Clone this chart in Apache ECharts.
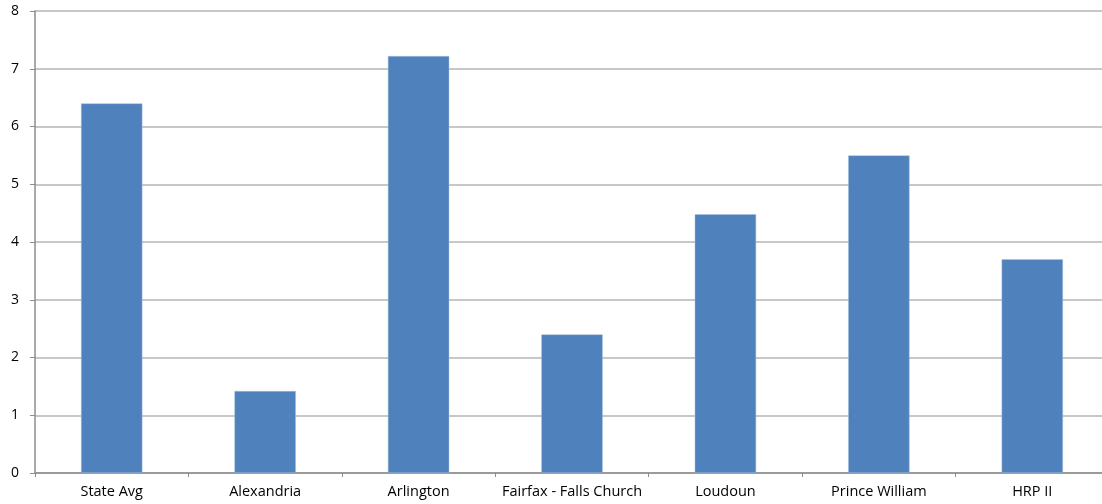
<!DOCTYPE html>
<html>
<head>
<meta charset="utf-8">
<script src="https://cdn.jsdelivr.net/npm/echarts@6/dist/echarts.min.js"></script>
<style>
  html, body { margin: 0; padding: 0; background: #ffffff; }
  #chart { width: 1102px; height: 504px; }
</style>
</head>
<body>
<div id="chart"></div>
<script>
// Regions shown along the category axis
const regions = ['State Avg', 'Alexandria', 'Arlington', 'Fairfax - Falls Church', 'Loudoun', 'Prince William', 'HRP II'];
// Value for each region
const values = [6.4, 1.42, 7.22, 2.4, 4.48, 5.5, 3.7];

const chart = echarts.init(document.getElementById('chart'));
chart.setOption({
  animation: false,
  // plot area runs slightly past the right edge of the canvas
  grid: { left: 35, right: -7, top: 11, bottom: 31, containLabel: false, outerBoundsMode: 'none' },
  xAxis: {
    type: 'category',
    data: regions,
    axisLine: { show: true, lineStyle: { color: '#8c8c8c', width: 1.5 } },
    axisTick: { show: true, length: 4, alignWithLabel: false, lineStyle: { color: '#8c8c8c' } },
    axisLabel: { color: '#000', fontFamily: 'Open Sans', fontSize: 14.5, margin: 11, interval: 0 }
  },
  yAxis: {
    type: 'value',
    min: 0,
    max: 8,
    interval: 1,
    axisLine: { show: true, lineStyle: { color: '#8c8c8c', width: 1.5 } },
    axisTick: { show: true, length: 5, lineStyle: { color: '#8c8c8c' } },
    axisLabel: { color: '#000', fontFamily: 'Open Sans', fontSize: 14, margin: 16 },
    splitLine: { show: true, lineStyle: { color: '#b4b4b4', width: 1.5 } }
  },
  series: [{
    type: 'bar',
    data: values,
    barWidth: '40%',
    itemStyle: { color: '#4f81bd', borderColor: '#a9c0de', borderWidth: 0.5 }
  }]
});
</script>
</body>
</html>
